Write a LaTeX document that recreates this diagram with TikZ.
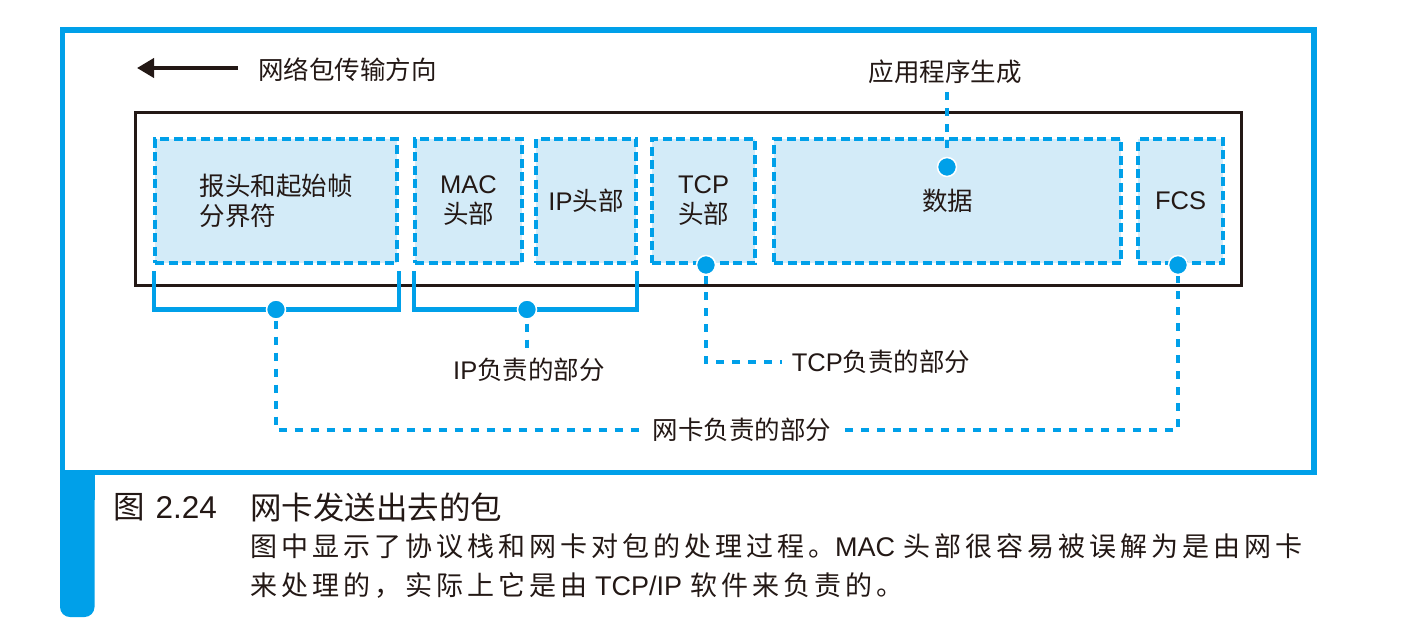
\documentclass[tikz,border=0pt]{standalone}
\usepackage{fontspec}
\setmainfont{Noto Sans CJK SC}
\newfontfamily\latf{Liberation Sans}
\newfontfamily\bodyf[LetterSpace=14.8]{Noto Sans CJK SC}
\usetikzlibrary{arrows.meta}
\definecolor{cblue}{HTML}{00A0E9}
\definecolor{cfill}{HTML}{D3EBF8}
\definecolor{cink}{HTML}{231815}
\newcommand{\lt}[1]{{\latf #1}}
\tikzset{
  lab/.style={font=\fontsize{25.5}{30}\selectfont, text=cink, inner sep=0pt},
  pbox/.style={draw=cblue, fill=cfill, line width=4pt, dash pattern=on 9pt off 4.5pt,
    minimum height=124pt, inner sep=0pt, outer sep=0pt, align=center,
    font=\fontsize{25.5}{30}\selectfont, text=cink},
  conn/.style={cblue, line width=4.5pt, dash pattern=on 8pt off 8pt},
  brk/.style={cblue, line width=4.5pt, line join=miter},
  dotn/.style={circle, fill=cblue, draw=white, line width=1.5pt, minimum size=19pt, inner sep=0pt},
  captxt/.style={font=\fontsize{31.5}{36}\selectfont, text=cink, inner sep=0pt},
  bodyt/.style={font=\bodyf\fontsize{27}{38.5}\selectfont, text=cink, inner sep=0pt, align=left}
}
\begin{document}
\begin{tikzpicture}[x=1pt,y=-1pt]
\useasboundingbox (0,0) rectangle (1413,629);
% frame
\draw[cblue, line width=5.3pt] (62.5,30) rectangle (1314,472.5);
\fill[cblue, rounded corners=10pt] (60,475) rectangle (94.5,617);
\fill[cblue] (60,470) rectangle (94.5,500);
% direction arrow
\node[lab, anchor=west] (ldir) at (258,70) {网络包传输方向};
\coordinate (arrS) at (238,68);
\coordinate (arrE) at (137,68);
\draw[cink, line width=4pt, -{Triangle[length=17pt,width=19pt]}] (arrS) -- (arrE);
% packet outline
\draw[cink, line width=2.5pt] (135.5,112.5) rectangle (1241.5,285.5);
% boxes
\node[pbox, minimum width=242pt, align=left] (b1) at (276,201) {报头和起始帧\\分界符};
\node[pbox, minimum width=107pt] (b2) at (468.5,201) {\lt{MAC}\\头部};
\node[pbox, minimum width=100pt] (b3) at (586,201) {\lt{IP}头部};
\node[pbox, minimum width=103pt] (b4) at (703.5,201) {\lt{TCP}\\头部};
\node[pbox, minimum width=347pt] (b5) at (947.5,201) {数据};
\node[pbox, minimum width=85pt] (b6) at (1180.5,201) {\lt{FCS}};
% labels
\node[lab, inner sep=8pt] (lapp) at (945,72) {应用程序生成};
\node[lab, inner sep=10pt] (lip) at (529,370) {\lt{IP}负责的部分};
\node[lab, inner sep=10pt] (ltcp) at (881,362) {\lt{TCP}负责的部分};
\node[lab, inner sep=14pt] (lnic) at (742,430) {网卡负责的部分};
% dot positions
\coordinate (p1) at (276,309.5);
\coordinate (p2) at (527,309.5);
% brackets
\draw[brk] (154,271) |- (p1) -| (399,271);
\draw[brk] (414,271) |- (p2) -| (637,271);
% dots
\node[dotn] (d1) at (p1) {};
\node[dotn] (d2) at (p2) {};
\node[dotn] (d3) at (706,265) {};
\node[dotn] (d4) at (947,167) {};
\node[dotn] (d5) at (1178,265) {};
% connectors
\draw[conn] ([yshift=-11pt]d1.center) |- (lnic.west);
\draw[conn] (lnic.east) -| ([yshift=-11pt]d5.center);
\draw[conn] ([yshift=-14pt]d2.center) -- (d2 |- lip.north);
\draw[conn] ([yshift=-11pt]d3.center) |- (ltcp.west);
\draw[conn] (lapp.south -| d4) -- ([yshift=11pt]d4.center);
% caption
\node[captxt, anchor=west] (fig) at (113,507.5) {图\hspace{11pt}\lt{2.24}};
\node[captxt, anchor=west] (ttl) at (250,507.5) {网卡发送出去的包};
\node[bodyt, anchor=west] (bd) at (250,566) {图中显示了协议栈和网卡对包的处理过程。\lt{MAC}\hspace{8pt}头部很容易被误解为是由网卡\\来处理的，实际上它是由\hspace{8pt}\lt{TCP/IP}\hspace{8pt}软件来负责的。};
\end{tikzpicture}
\end{document}
